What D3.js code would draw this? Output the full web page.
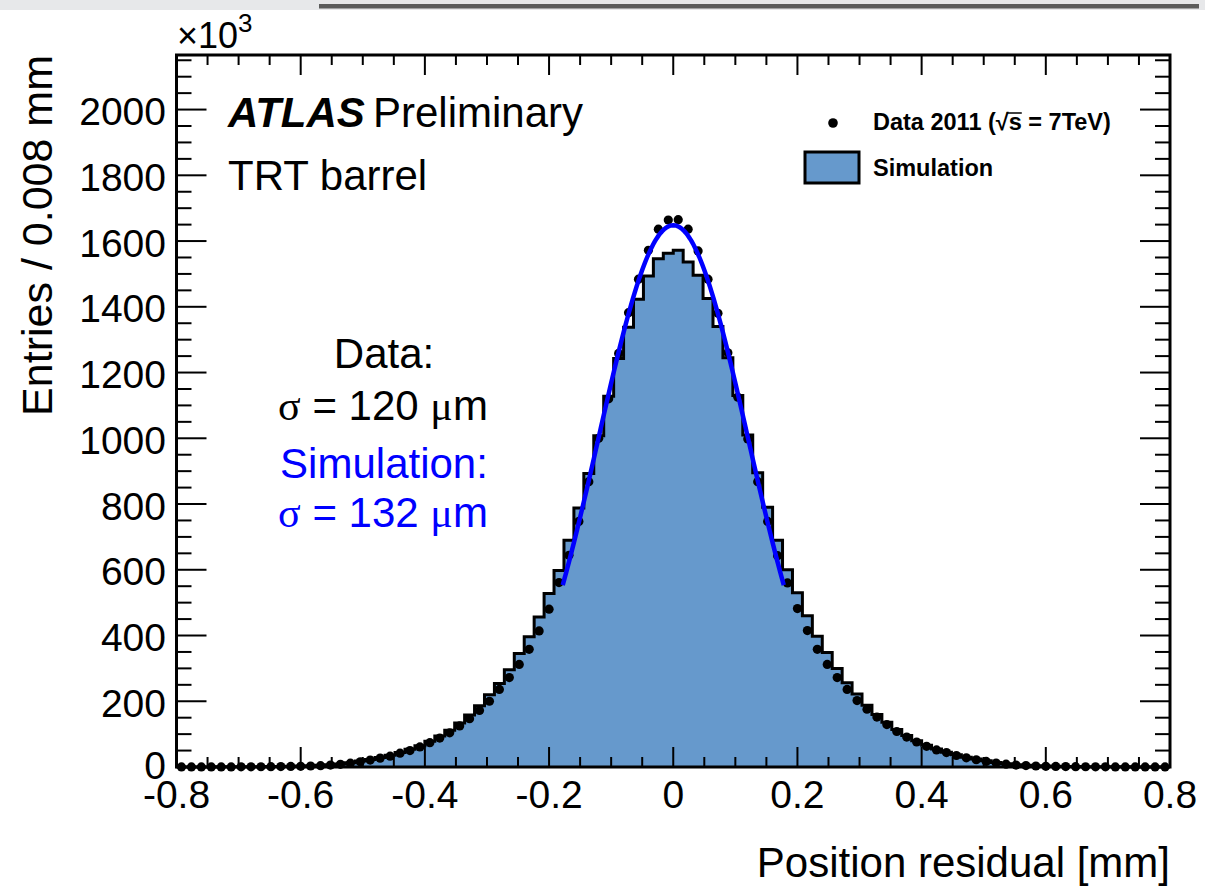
<!DOCTYPE html>
<html lang="en">
<head>
<meta charset="utf-8"/>
<title>TRT barrel position residual</title>
<script src="https://cdn.jsdelivr.net/npm/d3@7"></script>
<style>
  body { margin: 0; background: #fff; }
  text { font-family: "Liberation Sans", Arial, Helvetica, sans-serif; }
  .sym { font-family: "Liberation Serif", "Times New Roman", serif; }
</style>
</head>
<body>
<svg id="chart" width="1205" height="887"></svg>
<script>
// histogram binning
var xMin = -0.8, xMax = 0.8, nBins = 100;

// data 2011, entries per bin (x1000), left to right
var dataCounts = [
  0.15, 0.2, 0.2, 0.25, 0.3, 0.35, 0.4, 0.5, 0.7, 0.9,
  1.2, 1.6, 2.1, 3, 4, 5.8, 8, 11.5, 16, 21,
  27, 33, 42, 50, 61, 74, 88, 104, 125, 147,
  172, 200, 236, 272, 312, 358, 414, 480, 561, 644,
  747, 868, 1000, 1120, 1258, 1382, 1484, 1572, 1636, 1664,
  1665, 1636, 1570, 1484, 1380, 1260, 1125, 998, 868, 747,
  643, 560, 482, 415, 358, 312, 272, 236, 202, 176,
  152, 129, 108, 91, 76, 63, 52, 44, 35, 28,
  22, 17, 12, 8.5, 6, 4.2, 3, 2.2, 1.6, 1.2,
  0.9, 0.7, 0.5, 0.4, 0.35, 0.3, 0.25, 0.2, 0.2, 0.15
];

// simulation, entries per bin (x1000)
var simCounts = [
  0.2, 0.25, 0.3, 0.35, 0.4, 0.5, 0.6, 0.7, 0.9, 1.2,
  1.6, 2.1, 2.8, 3.6, 5, 7, 9.5, 13, 18, 23,
  29, 36, 44, 54, 65, 78, 94, 112, 134, 158,
  186, 220, 254, 296, 345, 396, 456, 528, 598, 690,
  788, 893, 1008, 1128, 1243, 1338, 1423, 1494, 1546, 1563,
  1572, 1536, 1496, 1425, 1340, 1245, 1130, 1010, 895, 790,
  690, 600, 530, 460, 398, 348, 300, 256, 222, 188,
  160, 136, 114, 96, 80, 66, 55, 45, 37, 30,
  24, 19, 14, 10, 7, 5, 3.6, 2.8, 2.1, 1.6,
  1.2, 0.9, 0.7, 0.6, 0.5, 0.4, 0.35, 0.3, 0.25, 0.2
];

// gaussian fit drawn on the core
var fitAmp = 1648, fitMean = 0, fitSigma = 0.1205, fitLo = -0.178, fitHi = 0.178;

var xTicks = [-0.8, -0.6, -0.4, -0.2, 0, 0.2, 0.4, 0.6, 0.8];
var xTickLabels = ["-0.8", "-0.6", "-0.4", "-0.2", "0", "0.2", "0.4", "0.6", "0.8"];
var yTicks = [0, 200, 400, 600, 800, 1000, 1200, 1400, 1600, 1800, 2000];
var yTickLabels = ["0", "200", "400", "600", "800", "1000", "1200", "1400", "1600", "1800", "2000"];
var yMax = 2166;

var L = 176.5, R = 1170, T = 55, B = 767;
var fillColor = "#6699cc";

var svg = d3.select("#chart");
var x = d3.scaleLinear().domain([xMin, xMax]).range([L, R]);
var y = d3.scaleLinear().domain([0, yMax]).range([B, T]);
var binW = (xMax - xMin) / nBins;

// screenshot strip at the very top
svg.append("rect").attr("x", 0).attr("y", 0).attr("width", 1205).attr("height", 10).attr("fill", "#e7e8ea");
svg.append("rect").attr("x", 319).attr("y", 4).attr("width", 880).attr("height", 4.5).attr("fill", "#5c5c5c");

// simulation histogram
var steps = simCounts.map(function(v, i) { return [xMin + i * binW, v]; });
steps.push([xMax, simCounts[nBins - 1]]);

svg.append("path")
  .datum(steps)
  .attr("d", d3.area().curve(d3.curveStepAfter)
    .x(function(d) { return x(d[0]); })
    .y0(y(0))
    .y1(function(d) { return y(d[1]); }))
  .attr("fill", fillColor);

svg.append("path")
  .datum(steps)
  .attr("d", d3.line().curve(d3.curveStepAfter)
    .x(function(d) { return x(d[0]); })
    .y(function(d) { return y(d[1]); }))
  .attr("fill", "none")
  .attr("stroke", "#000")
  .attr("stroke-width", 3);

// frame and ticks
var axes = svg.append("g").attr("stroke", "#000");
axes.append("rect").attr("x", L).attr("y", T).attr("width", R - L).attr("height", B - T)
  .attr("fill", "none").attr("stroke-width", 3);

var xMinor = d3.range(-0.8, 0.8001, 0.05).filter(function(v) {
  return Math.abs(Math.round(v / 0.2) * 0.2 - v) > 1e-6;
});
var yMinor = d3.range(0, yMax, 50).filter(function(v) { return v % 200 !== 0; });

function xtick(v, len) {
  axes.append("line").attr("x1", x(v)).attr("x2", x(v)).attr("y1", B).attr("y2", B - len).attr("stroke-width", 2);
  axes.append("line").attr("x1", x(v)).attr("x2", x(v)).attr("y1", T).attr("y2", T + len).attr("stroke-width", 2);
}
function ytick(v, len) {
  axes.append("line").attr("x1", L).attr("x2", L + len).attr("y1", y(v)).attr("y2", y(v)).attr("stroke-width", 2);
  axes.append("line").attr("x1", R).attr("x2", R - len).attr("y1", y(v)).attr("y2", y(v)).attr("stroke-width", 2);
}
xTicks.forEach(function(v) { xtick(v, 20); });
xMinor.forEach(function(v) { xtick(v, 10); });
yTicks.forEach(function(v) { ytick(v, 30); });
yMinor.forEach(function(v) { ytick(v, 15); });

svg.selectAll(".xlab").data(xTicks).enter().append("text")
  .attr("x", function(d) { return x(d); })
  .attr("y", B + 41)
  .attr("text-anchor", "middle")
  .attr("font-size", 39)
  .text(function(d, i) { return xTickLabels[i]; });

svg.selectAll(".ylab").data(yTicks).enter().append("text")
  .attr("x", 166)
  .attr("y", function(d) { return y(d) + (d === 0 ? 12 : 15.5); })
  .attr("text-anchor", "end")
  .attr("font-size", 39)
  .text(function(d, i) { return yTickLabels[i]; });

// axis titles
svg.append("text")
  .attr("x", R).attr("y", 877)
  .attr("text-anchor", "end").attr("font-size", 42)
  .text("Position residual [mm]");

svg.append("text")
  .attr("transform", "translate(52," + T + ") rotate(-90)")
  .attr("text-anchor", "end").attr("font-size", 43)
  .text("Entries / 0.008 mm");

var exp = svg.append("text").attr("x", 177).attr("y", 48).attr("font-size", 36);
exp.append("tspan").text("\u00d710");
exp.append("tspan").attr("font-size", 26).attr("dy", -16).text("3");

// data points
svg.append("g").selectAll("circle")
  .data(dataCounts)
  .enter().append("circle")
  .attr("cx", function(d, i) { return x(xMin + (i + 0.5) * binW); })
  .attr("cy", function(d) { return y(d); })
  .attr("r", 4.6)
  .attr("fill", "#000");

// gaussian fit
var fitPts = d3.range(0, 121).map(function(k) {
  var xv = fitLo + (fitHi - fitLo) * k / 120;
  return [xv, fitAmp * Math.exp(-0.5 * Math.pow((xv - fitMean) / fitSigma, 2))];
});
svg.append("path")
  .datum(fitPts)
  .attr("d", d3.line().x(function(d) { return x(d[0]); }).y(function(d) { return y(d[1]); }))
  .attr("fill", "none")
  .attr("stroke", "#0000ff")
  .attr("stroke-width", 4.5);

// labels
var atlas = svg.append("text").attr("x", 228).attr("y", 127).attr("font-size", 42);
atlas.append("tspan").attr("font-weight", "bold").attr("font-style", "italic").text("ATLAS");
svg.append("text").attr("x", 373).attr("y", 127).attr("font-size", 42).text("Preliminary");
svg.append("text").attr("x", 228).attr("y", 190).attr("font-size", 42).text("TRT barrel");

svg.append("text").attr("x", 384).attr("y", 368).attr("text-anchor", "middle").attr("font-size", 42).text("Data:");
function sigmaLine(yy, val, col) {
  var t = svg.append("text").attr("x", 383).attr("y", yy).attr("text-anchor", "middle")
    .attr("font-size", 42).attr("fill", col);
  t.append("tspan").attr("class", "sym").text("\u03c3");
  t.append("tspan").text(" = " + val + " ");
  t.append("tspan").attr("class", "sym").text("\u03bc");
  t.append("tspan").text("m");
}
sigmaLine(420, "120", "#000");
svg.append("text").attr("x", 384).attr("y", 478).attr("text-anchor", "middle").attr("font-size", 42)
  .attr("fill", "#0000ff").text("Simulation:");
sigmaLine(527, "132", "#0000ff");

// legend
svg.append("circle").attr("cx", 833).attr("cy", 123).attr("r", 4.8).attr("fill", "#000");
var lg = svg.append("text").attr("x", 873).attr("y", 130).attr("font-size", 23.5).attr("font-weight", "bold");
lg.append("tspan").text("Data 2011 (\u221a");
lg.append("tspan").text("s");
lg.append("tspan").text(" = 7TeV)");
var sIdx = "Data 2011 (\u221a".length;
var ext = lg.node().getExtentOfChar(sIdx);
svg.append("line")
  .attr("x1", ext.x - 2).attr("x2", ext.x + ext.width)
  .attr("y1", ext.y + 4).attr("y2", ext.y + 4)
  .attr("stroke", "#000").attr("stroke-width", 1.5);

svg.append("rect").attr("x", 805).attr("y", 152).attr("width", 54).attr("height", 31)
  .attr("fill", fillColor).attr("stroke", "#000").attr("stroke-width", 3);
svg.append("text").attr("x", 873).attr("y", 176).attr("font-size", 23.5).attr("font-weight", "bold").text("Simulation");
</script>
</body>
</html>
